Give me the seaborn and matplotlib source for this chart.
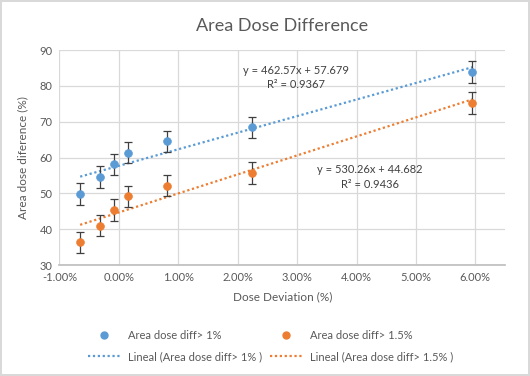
import numpy as np
import pandas as pd
import matplotlib
matplotlib.use("Agg")
import matplotlib.pyplot as plt
from matplotlib.ticker import PercentFormatter, MultipleLocator
from matplotlib.lines import Line2D
import seaborn as sns

# Datos
dose_dev = [-0.0065, -0.0032, -0.0008, 0.0016, 0.0081, 0.0224, 0.0595]
diff_1 = [49.8, 54.6, 58.1, 61.4, 64.5, 68.4, 83.8]
diff_15 = [36.3, 41.0, 45.3, 49.2, 52.2, 55.7, 75.2]
err_1 = [3.0, 3.0, 3.0, 3.0, 3.0, 3.0, 3.0]
err_15 = [3.0, 3.0, 3.0, 3.0, 3.0, 3.0, 3.0]

# Coeficientes de las lineas de tendencia (como aparecen en el grafico)
fit_1 = (462.57, 57.679, 0.9367)
fit_15 = (530.26, 44.682, 0.9436)

AZUL = "#5B9BD5"
NARANJA = "#ED7D31"
GRIS_TXT = "#595959"

sns.set_theme(style="white")
plt.rcParams["font.family"] = ["Lato", "DejaVu Sans"]
plt.rcParams["axes.unicode_minus"] = False

df = pd.DataFrame({"x": dose_dev, "d1": diff_1, "d15": diff_15})

fig = plt.figure(figsize=(5.30, 3.76), dpi=100)
fig.patch.set_edgecolor("#D9D9D9")
fig.patch.set_linewidth(1.5)
ax = fig.add_axes([0.112, 0.295, 0.841, 0.572])

# Lineas de tendencia
xs = np.array([min(dose_dev), max(dose_dev)])
for (m, b, _), c in [(fit_1, AZUL), (fit_15, NARANJA)]:
    sns.lineplot(x=xs, y=m * xs + b, ax=ax, color=c, linestyle=(0, (1, 1.2)),
                 linewidth=1.6, zorder=2)

# Barras de error
ax.errorbar(dose_dev, diff_1, yerr=err_1, fmt="none", ecolor="#404040",
            elinewidth=0.9, capsize=3, capthick=0.9, zorder=3)
ax.errorbar(dose_dev, diff_15, yerr=err_15, fmt="none", ecolor="#404040",
            elinewidth=0.9, capsize=3, capthick=0.9, zorder=3)

# Puntos
sns.scatterplot(data=df, x="x", y="d1", ax=ax, color=AZUL, s=32,
                edgecolor=AZUL, zorder=4)
sns.scatterplot(data=df, x="x", y="d15", ax=ax, color=NARANJA, s=32,
                edgecolor=NARANJA, zorder=4)

ax.set_xlim(-0.01, 0.065)
ax.set_ylim(30, 90)
ax.xaxis.set_major_locator(MultipleLocator(0.01))
ax.yaxis.set_major_locator(MultipleLocator(10))
ax.xaxis.set_major_formatter(PercentFormatter(xmax=1, decimals=2))
ax.grid(True, color="#D9D9D9", linewidth=0.9)
ax.set_axisbelow(True)
for s in ["top", "right", "left"]:
    ax.spines[s].set_visible(False)
ax.spines["bottom"].set_color("#BFBFBF")
ax.tick_params(axis="both", length=0, labelsize=8, labelcolor=GRIS_TXT, pad=5)

ax.set_xlabel("Dose Deviation (%)", fontsize=8.5, color=GRIS_TXT, labelpad=6)
ax.set_ylabel("Area dose diference (%)", fontsize=8.5, color=GRIS_TXT, labelpad=8)
ax.set_title("Area Dose Difference", fontsize=13, color=GRIS_TXT, pad=14)

# Ecuaciones
ax.text(0.0298, 84.4, f"y = {fit_1[0]}x + {fit_1[1]}", ha="center", va="center",
        fontsize=8, color="#404040")
ax.text(0.0298, 80.5, f"R² = {fit_1[2]}", ha="center", va="center",
        fontsize=8, color="#404040")
ax.text(0.0422, 56.8, f"y = {fit_15[0]}x + {fit_15[1]}", ha="center", va="center",
        fontsize=8, color="#404040")
ax.text(0.0422, 52.6, f"R² = {fit_15[2]}", ha="center", va="center",
        fontsize=8, color="#404040")

# Leyenda
handles = [
    Line2D([], [], marker="o", color=AZUL, linestyle="none", markersize=5),
    Line2D([], [], color=AZUL, linestyle=(0, (1, 1.2)), linewidth=1.6),
    Line2D([], [], marker="o", color=NARANJA, linestyle="none", markersize=5),
    Line2D([], [], color=NARANJA, linestyle=(0, (1, 1.2)), linewidth=1.6),
]
labels = ["Area dose diff> 1%", "Lineal (Area dose diff> 1% )",
          "Area dose diff> 1.5%", "Lineal (Area dose diff> 1.5% )"]
fig.legend(handles, labels, loc="center", bbox_to_anchor=(0.51, 0.08), ncol=2,
           frameon=False, fontsize=8, labelcolor=GRIS_TXT, handlelength=3,
           handletextpad=0.6, columnspacing=0.7, labelspacing=0.9)

fig.savefig("out.png", dpi=100, edgecolor=fig.get_edgecolor())
